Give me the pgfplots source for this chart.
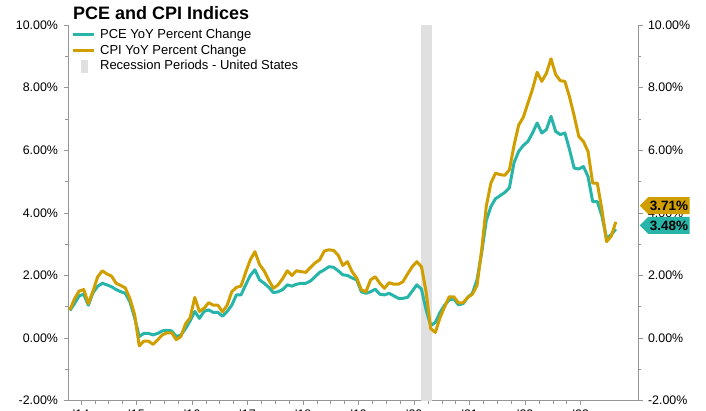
\documentclass[border=0pt]{standalone}
\usepackage{fontspec}
\setmainfont{Liberation Sans}
\usepackage{pgfplots}
\usepackage{pgfplotstable}
\pgfplotsset{compat=1.18}
\usetikzlibrary{shapes.symbols}

\definecolor{pceteal}{RGB}{38,181,168}
\definecolor{cpigold}{RGB}{209,158,0}
\definecolor{recgray}{RGB}{224,224,224}
\definecolor{axgray}{RGB}{150,150,150}

\pgfplotstableread{
m pce cpi
-3 0.88 0.90
-2 1.10 1.25
-1 1.35 1.50
0 1.40 1.55
1 1.05 1.10
2 1.45 1.50
3 1.65 1.95
4 1.75 2.15
5 1.70 2.05
6 1.64 1.98
7 1.55 1.75
8 1.48 1.68
9 1.43 1.60
10 1.15 1.25
11 0.65 0.75
12 0.05 -0.25
13 0.15 -0.10
14 0.15 -0.10
15 0.10 -0.20
16 0.15 -0.05
17 0.23 0.10
18 0.25 0.17
19 0.23 0.17
20 0.05 -0.05
21 0.10 0.05
22 0.30 0.45
23 0.55 0.65
24 0.85 1.30
25 0.63 0.85
26 0.85 0.95
27 0.90 1.13
28 0.82 1.05
29 0.82 1.05
30 0.70 0.84
31 0.85 1.05
32 1.05 1.48
33 1.38 1.62
34 1.38 1.66
35 1.70 2.10
36 2.00 2.50
37 2.18 2.76
38 1.86 2.35
39 1.75 2.15
40 1.62 1.85
41 1.45 1.59
42 1.48 1.70
43 1.55 1.90
44 1.70 2.15
45 1.66 2.00
46 1.72 2.15
47 1.75 2.12
48 1.75 2.10
49 1.82 2.25
50 1.96 2.40
51 2.10 2.50
52 2.18 2.78
53 2.28 2.82
54 2.26 2.80
55 2.15 2.65
56 2.02 2.32
57 2.00 2.44
58 1.92 2.12
59 1.86 1.92
60 1.48 1.54
61 1.43 1.48
62 1.48 1.86
63 1.56 1.96
64 1.40 1.75
65 1.38 1.59
66 1.43 1.77
67 1.35 1.72
68 1.27 1.72
69 1.27 1.80
70 1.30 2.05
71 1.50 2.28
72 1.70 2.44
73 1.56 2.28
74 0.90 1.48
75 0.40 0.30
76 0.50 0.18
77 0.82 0.65
78 1.05 1.00
79 1.22 1.32
80 1.25 1.32
81 1.06 1.12
82 1.10 1.13
83 1.30 1.30
84 1.43 1.40
85 1.86 1.68
86 2.71 2.80
87 3.75 4.20
88 4.20 4.95
89 4.45 5.27
90 4.55 5.22
91 4.65 5.20
92 4.80 5.37
93 5.60 6.15
94 5.96 6.80
95 6.15 7.05
96 6.28 7.50
97 6.55 7.95
98 6.87 8.49
99 6.55 8.20
100 6.66 8.46
101 7.08 8.92
102 6.60 8.42
103 6.50 8.22
104 6.55 8.20
105 6.02 7.70
106 5.43 7.10
107 5.40 6.44
108 5.48 6.28
109 5.16 5.96
110 4.36 4.95
111 4.36 4.95
112 3.90 4.10
113 3.19 3.08
114 3.30 3.25
115 3.48 3.71
}\datatable

\pgfplotsset{
  base/.style={
    scale only axis, width=570pt, height=375.7pt,
    xmin=-3.4, xmax=119.8, ymin=-2, ymax=10,
    ytick={-2,0,2,4,6,8,10},
    yticklabels={-2.00\%,0.00\%,2.00\%,4.00\%,6.00\%,8.00\%,10.00\%},
    minor ytick={-1,1,3,5,7,9},
    tick align=outside,
    major tick length=4.5pt, minor tick length=3pt,
    tick style={axgray, line width=0.6pt},
    axis line style={-, axgray, line width=0.9pt},
    tick label style={font=\fontsize{12.4}{14}\selectfont, text=black},
  }
}

\begin{document}
\begin{tikzpicture}
\begin{axis}[base,
  name=main,
  at={(0,0)}, anchor=south west,
  axis x line*=bottom, axis y line*=left,
  xtick={-0.6,11.4,...,107.4},
  xticklabels={'14,'15,'16,'17,'18,'19,'20,'21,'22,'23},
  minor x tick num=3,
  xticklabel style={yshift=-1pt},
  yticklabel style={xshift=-2pt},
  legend style={at={(0.006,0.993)}, anchor=north west, draw=none, fill=none,
    font=\fontsize{13}{14}\selectfont, row sep=1.6pt, column sep=3pt, inner sep=0pt,
    nodes={inner sep=1.5pt}},
  legend cell align=left,
  line join=round,
]
\addlegendimage{legend image code/.code={\draw[pceteal, line width=3pt] (0pt,0pt) -- (21pt,0pt);}}
\addlegendentry{PCE YoY Percent Change}
\addlegendimage{legend image code/.code={\draw[cpigold, line width=3pt] (0pt,0pt) -- (21pt,0pt);}}
\addlegendentry{CPI YoY Percent Change}
\addlegendimage{legend image code/.code={\fill[recgray] (8pt,-6pt) rectangle (14pt,6pt);}}
\addlegendentry{Recession Periods - United States}

\addplot[fill=recgray, draw=none, forget plot] coordinates {(72.8,-2) (72.8,10) (75.3,10) (75.3,-2)} -- cycle;
\addplot[pceteal, line width=3pt, forget plot] table[x=m, y=pce] {\datatable};
\addplot[cpigold, line width=3pt, forget plot] table[x=m, y=cpi] {\datatable};

\coordinate (cpiL) at (axis cs:119.8,4.23);
\coordinate (pceL) at (axis cs:119.8,3.60);
\end{axis}

\begin{axis}[base,
  at={(main.south west)}, anchor=south west,
  axis y line*=right, axis x line=none,
  yticklabel style={xshift=2pt},
]
\end{axis}

\node[signal, signal to=west, fill=cpigold, anchor=west, inner xsep=1.5pt, inner ysep=1pt,
  minimum height=17pt, font=\bfseries\fontsize{13.5}{15}\selectfont, xshift=1.5pt] at (cpiL) {3.71\%};
\node[signal, signal to=west, fill=pceteal, anchor=west, inner xsep=1.5pt, inner ysep=1pt,
  minimum height=17pt, font=\bfseries\fontsize{13.5}{15}\selectfont, xshift=1.5pt] at (pceL) {3.48\%};

\node[anchor=base west, inner sep=0pt, font=\bfseries\fontsize{18}{20}\selectfont]
  at ([xshift=5pt, yshift=5.3pt]main.north west) {PCE and CPI Indices};

\pgfresetboundingbox
\path ([xshift=-68pt, yshift=-10.3pt]main.south west) rectangle ++(706pt,411pt);
\end{tikzpicture}
\end{document}
